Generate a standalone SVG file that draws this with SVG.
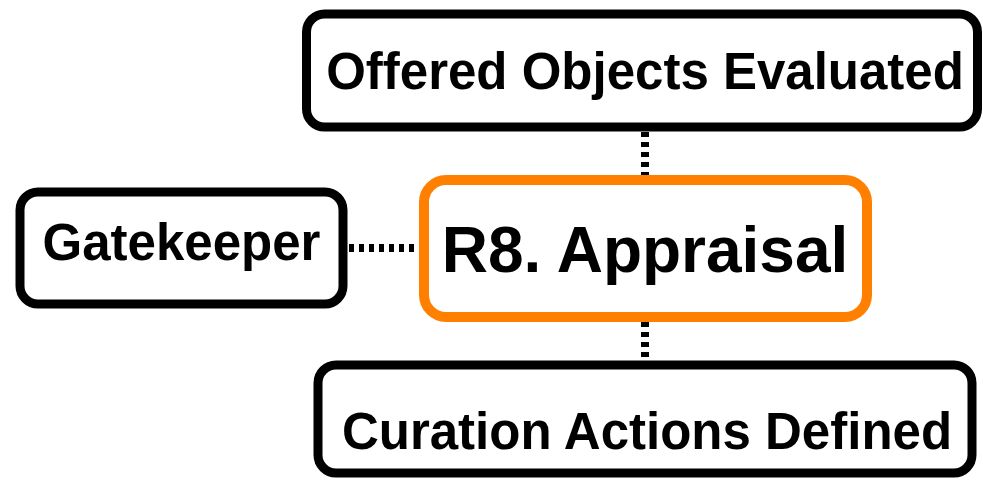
<svg xmlns="http://www.w3.org/2000/svg" width="983" height="480" viewBox="0 0 983 480">
<style>
.box{fill:#fff;stroke:#000;stroke-width:9}
.main{fill:#fff;stroke:#FF8000;stroke-width:10}
.lbl{font-family:"Liberation Sans",Arial,sans-serif;font-weight:bold;font-size:51px;fill:#000;text-anchor:middle}
.big{font-size:64px}
.conn{stroke:#000;stroke-width:8;stroke-dasharray:5 5;fill:none}
</style>
<rect width="983" height="480" fill="#fff"/>
<g id="connectors">
<line class="conn" x1="645" y1="132" x2="645" y2="176"/>
<line class="conn" x1="645" y1="322" x2="645" y2="362"/>
<line class="conn" x1="349" y1="248" x2="420" y2="248"/>
</g>
<g id="offered">
<rect class="box" x="306.5" y="14" width="671" height="113" rx="18"/>
<text class="lbl" x="645" y="89">Offered Objects Evaluated</text>
</g>
<g id="gatekeeper">
<rect class="box" x="20" y="192" width="323" height="112" rx="18"/>
<text class="lbl" x="181.5" y="260">Gatekeeper</text>
</g>
<g id="appraisal">
<rect class="main" x="424" y="180" width="443" height="137" rx="22"/>
<text class="lbl big" x="645" y="272">R8. Appraisal</text>
</g>
<g id="curation">
<rect class="box" x="318" y="365" width="654" height="108" rx="18"/>
<text class="lbl" x="647" y="449">Curation Actions Defined</text>
</g>
</svg>
